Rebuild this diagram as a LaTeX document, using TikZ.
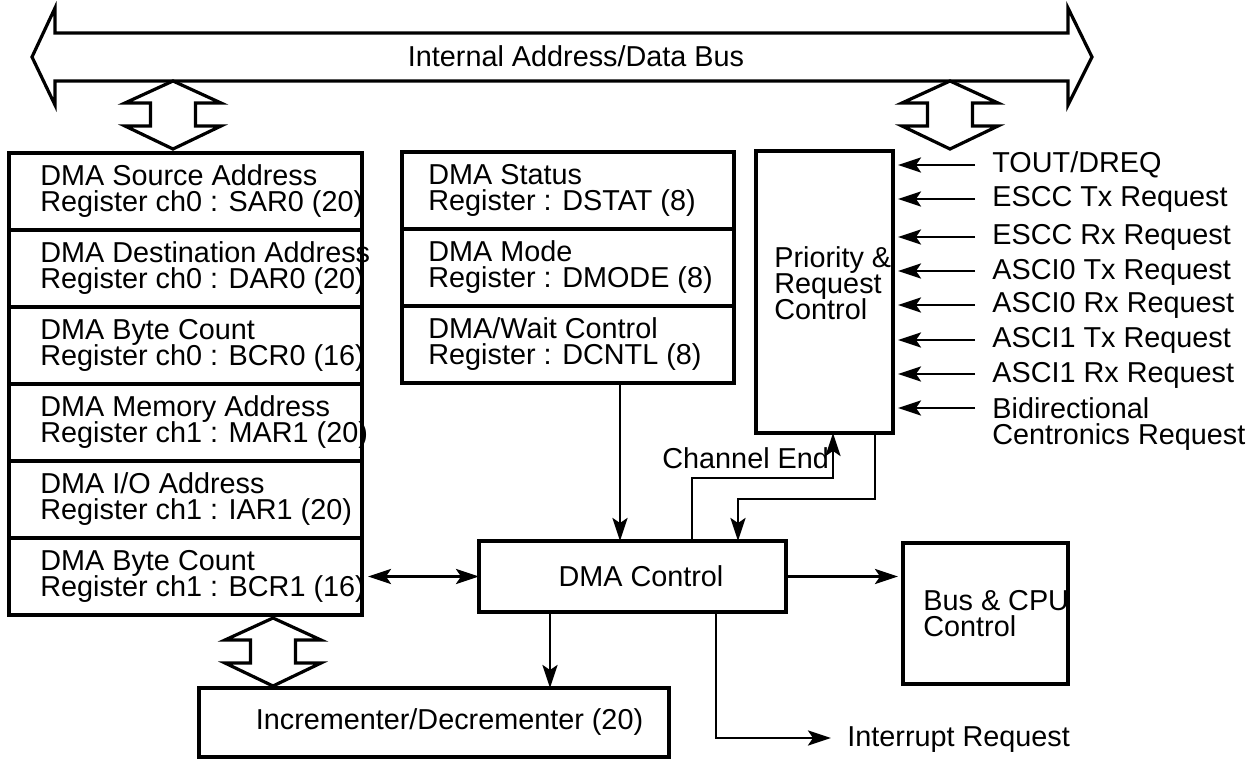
\documentclass[tikz,border=0pt]{standalone}
\usepackage{fontspec}
\setmainfont{Liberation Sans}
\usetikzlibrary{arrows.meta,positioning}
\newcommand\diagfont{\fontsize{14.4pt}{13pt}\selectfont\lineskiplimit=-20pt\relax}

\begin{document}
\begin{tikzpicture}[x=0.5pt,y=-0.5pt,font=\diagfont,>={Stealth[length=11.5pt,width=7.5pt,inset=2.5pt]},
    box/.style={draw,line width=1.6pt,inner sep=0pt,outer sep=0pt},
    regbox/.style={box,minimum width=176.5pt,minimum height=38.5pt},
    midbox/.style={box,minimum width=166pt,minimum height=38.5pt},
    regtxt/.style={align=left,inner sep=0pt,anchor=west},
    inlab/.style={inner sep=0pt,anchor=west,text height=10.5pt,text depth=2.5pt},
    wire/.style={line width=1.4pt},
    busline/.style={line width=1.6pt,line join=miter}]
  \useasboundingbox (0,0) rectangle (1253,759);

  % internal bus and the three bus taps
  \draw[busline] (55,33) -- (1068,33) -- (1068,8) -- (1092,57) -- (1068,105) -- (1068,81)
    -- (55,81) -- (55,105) -- (32,57) -- (55,8) -- cycle;
  \node[inner sep=0pt] (bustxt) at (576,56) {Internal Address/Data Bus};
  \foreach \bx/\by in {173/81,950/81,273/618}
    \draw[busline] (\bx,\by) -- ++(48,22) -- ++(-25.5,0) -- ++(0,23) -- ++(25.5,0) -- (\bx,\by+68)
      -- ++(-48,-23) -- ++(25.5,0) -- ++(0,-23) -- ++(-25.5,0) -- cycle;

  % channel registers
  \node[regbox] (sar) at (185.5,191.5) {};
  \node[regbox,below=0pt of sar] (dar) {};
  \node[regbox,below=0pt of dar] (bcr0) {};
  \node[regbox,below=0pt of bcr0] (mar) {};
  \node[regbox,below=0pt of mar] (iar) {};
  \node[regbox,below=0pt of iar] (bcr1) {};
  \node[regtxt] (sar-t) at ([xshift=15.5pt]sar.west) {DMA Source Address\\Register ch0 : SAR0 (20)};
  \node[regtxt] (dar-t) at ([xshift=15.5pt]dar.west) {DMA Destination Address\\Register ch0 : DAR0 (20)};
  \node[regtxt] (bcr0-t) at ([xshift=15.5pt]bcr0.west) {DMA Byte Count\\Register ch0 : BCR0 (16)};
  \node[regtxt] (mar-t) at ([xshift=15.5pt]mar.west) {DMA Memory Address\\Register ch1 : MAR1 (20)};
  \node[regtxt] (iar-t) at ([xshift=15.5pt]iar.west) {DMA I/O Address\\Register ch1 : IAR1 (20)};
  \node[regtxt] (bcr1-t) at ([xshift=15.5pt]bcr1.west) {DMA Byte Count\\Register ch1 : BCR1 (16)};

  % status / mode / control registers
  \node[midbox] (dstat) at (568,190.5) {};
  \node[midbox,below=0pt of dstat] (dmode) {};
  \node[midbox,below=0pt of dmode] (dcntl) {};
  \node[regtxt] (dstat-t) at ([xshift=13pt]dstat.west) {DMA Status\\Register : DSTAT (8)};
  \node[regtxt] (dmode-t) at ([xshift=13pt]dmode.west) {DMA Mode\\Register : DMODE (8)};
  \node[regtxt] (dcntl-t) at ([xshift=13pt]dcntl.west) {DMA/Wait Control\\Register : DCNTL (8)};

  % control blocks
  \node[box,minimum width=68.5pt,minimum height=141pt] (prio) at (824.5,292) {};
  \node[regtxt] (prio-t) at ([xshift=9pt,yshift=4.5pt]prio.west) {Priority \&\\Request\\Control};
  \node[box,minimum width=153.5pt,minimum height=35.5pt] (dma) at (632.5,576.5) {\hspace*{8.5pt}DMA Control};
  \node[box,minimum width=82.5pt,minimum height=70.5pt] (buscpu) at (985.5,613.5) {};
  \node[regtxt] (buscpu-t) at ([xshift=10pt]buscpu.west) {Bus \& CPU\\Control};
  \node[box,minimum width=235pt,minimum height=34.5pt] (inc) at (434,722.5) {\hspace*{15.5pt}Incrementer/Decrementer (20)};

  % request inputs
  \node[inlab] (tout) at (992,165) {TOUT/DREQ};
  \node[inlab] (escctx) at (992,199) {ESCC Tx Request};
  \node[inlab] (esccrx) at (992,237) {ESCC Rx Request};
  \node[inlab] (asci0tx) at (992,271) {ASCI0 Tx Request};
  \node[inlab] (asci0rx) at (992,305) {ASCI0 Rx Request};
  \node[inlab] (asci1tx) at (992,340) {ASCI1 Tx Request};
  \node[inlab] (asci1rx) at (992,374) {ASCI1 Rx Request};
  \node[regtxt] (bidir) at (992,424) {Bidirectional\\Centronics Request};
  \foreach \n in {tout,escctx,esccrx,asci0tx,asci0rx,asci1tx,asci1rx}
    \draw[wire,->,shorten >=2.5pt] ([xshift=-8.5pt]\n.west) -- (\n.west -| prio.east);
  \draw[wire,->,shorten >=2.5pt] ([xshift=-8.5pt,yshift=8pt]bidir.west) coordinate (bd) -- (bd -| prio.east);

  % connections
  \draw[wire,<->,shorten <=3pt] (bcr1.east) -- (dma.west);
  \draw[wire,->] (dcntl.south -| 620,0) -- (dma.north -| 620,0);
  \draw[wire,->] (dma.north -| 692,0) |- (833,478) -- (prio.south -| 833,0);
  \node[inner sep=0pt,anchor=base west] (chend) at (662,468) {Channel End};
  \draw[wire,->] (prio.south -| 875,0) |- (738,499) -- (dma.north -| 738,0);
  \draw[wire,->,shorten >=2.5pt] (dma.east) -- (dma.east -| buscpu.west);
  \draw[wire,->] (dma.south -| 550,0) -- (inc.north -| 550,0);
  \node[inlab] (irq) at (847,738) {Interrupt Request};
  \draw[wire,->,shorten >=8pt] (dma.south -| 716,0) |- (irq.west);
\end{tikzpicture}
\end{document}
